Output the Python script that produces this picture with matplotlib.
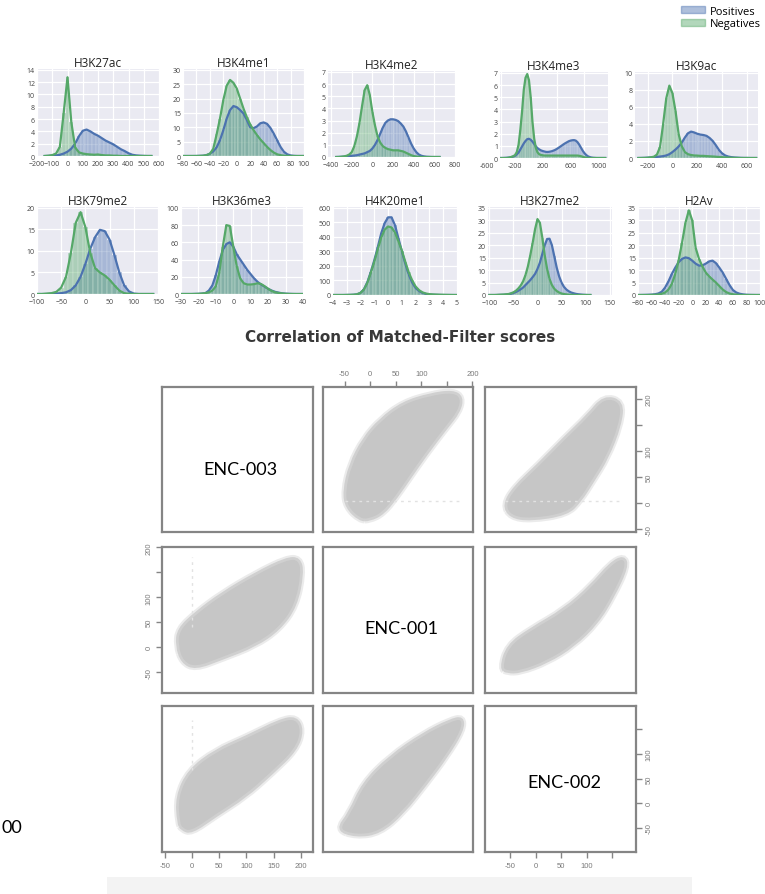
import numpy as np
import matplotlib
matplotlib.use("Agg")
import matplotlib.pyplot as plt
import matplotlib.transforms as mtransforms
from matplotlib.patches import Patch, PathPatch, Rectangle
from matplotlib.path import Path

# ---- histogram / kde knots (bin centres and densities) ----
h3k27ac_x = np.arange(-150, 551, 25)
h3k27ac_pos = [0, 0.02, 0.05, 0.1, 0.2, 0.4, 0.7, 1.2, 2.0, 3.2, 4.1, 4.3, 4.0, 3.6, 3.3,
               2.9, 2.5, 2.2, 1.9, 1.5, 1.1, 0.8, 0.45, 0.2, 0.1, 0.05, 0.02, 0, 0]
h3k27ac_neg = [0, 0.05, 0.15, 0.4, 1.5, 7.0, 12.8, 5.5, 1.4, 0.6, 0.4, 0.3, 0.25, 0.2, 0.25,
               0.15, 0.1, 0.1, 0.05, 0.05, 0, 0, 0, 0, 0, 0, 0, 0, 0]

h3k4me1_x = np.arange(-80, 101, 5)
h3k4me1_pos = [0, 0, 0, 0, 0.02, 0.05, 0.1, 0.3, 0.8, 1.6, 3, 5.5, 9, 13, 16, 17.4, 17, 16,
               14.8, 12.5, 10, 9.7, 10.3, 11.4, 11.7, 11.2, 9.8, 7.8, 5.5, 3.2, 1.5, 0.6, 0.2,
               0.05, 0, 0, 0]
h3k4me1_neg = [0, 0, 0, 0, 0, 0.05, 0.1, 0.3, 0.8, 2.5, 7.5, 13, 19.5, 24.5, 26.5, 25.5, 23.5,
               20, 16.5, 13.5, 11, 9, 7.3, 5.8, 4.5, 3.2, 2.1, 1.2, 0.6, 0.3, 0.1, 0.05, 0, 0,
               0, 0, 0]

h3k4me2_x = np.arange(-350, 651, 25)
h3k4me2_pos = [0, 0.01, 0.02, 0.03, 0.05, 0.07, 0.1, 0.12, 0.15, 0.2, 0.25, 0.3, 0.4, 0.5,
               0.7, 1.0, 1.4, 1.9, 2.4, 2.8, 3.0, 3.1, 3.1, 3.05, 2.95, 2.75, 2.5, 2.1, 1.6,
               1.1, 0.7, 0.4, 0.2, 0.1, 0.05, 0.02, 0.01, 0, 0, 0, 0]
h3k4me2_neg = [0, 0, 0.02, 0.05, 0.1, 0.2, 0.4, 0.9, 1.7, 2.8, 4.2, 5.5, 5.9, 5.1, 3.7, 2.6,
               1.7, 1.2, 0.9, 0.75, 0.65, 0.6, 0.55, 0.55, 0.55, 0.5, 0.45, 0.35, 0.25, 0.15,
               0.08, 0.04, 0.02, 0, 0, 0, 0, 0, 0, 0, 0]

h3k4me3_x = np.arange(-400, 1101, 25)
h3k4me3_pos = [0, 0, 0.01, 0.02, 0.03, 0.05, 0.08, 0.12, 0.18, 0.3, 0.45, 0.7, 0.95, 1.2,
               1.4, 1.55, 1.58, 1.5, 1.35, 1.15, 0.95, 0.8, 0.7, 0.62, 0.57, 0.53, 0.5, 0.5,
               0.52, 0.55, 0.6, 0.66, 0.74, 0.83, 0.93, 1.03, 1.13, 1.22, 1.3, 1.38, 1.43,
               1.46, 1.47, 1.43, 1.3, 1.1, 0.85, 0.6, 0.4, 0.25, 0.14, 0.08, 0.04, 0.02, 0.01,
               0, 0, 0, 0, 0, 0]
h3k4me3_neg = [0, 0, 0, 0, 0.02, 0.05, 0.1, 0.15, 0.25, 0.5, 1.1, 2.3, 3.8, 5.6, 6.6, 6.9,
               6.4, 5.0, 3.0, 1.6, 0.8, 0.45, 0.3, 0.25, 0.22, 0.2, 0.2, 0.2, 0.2, 0.2, 0.2,
               0.2, 0.2, 0.2, 0.2, 0.2, 0.2, 0.2, 0.2, 0.2, 0.2, 0.2, 0.2, 0.2, 0.2, 0.18,
               0.15, 0.1, 0.06, 0.03, 0.01, 0, 0, 0, 0, 0, 0, 0, 0, 0, 0]

h3k9ac_x = np.arange(-275, 676, 25)
h3k9ac_pos = [0, 0.01, 0.02, 0.04, 0.07, 0.1, 0.13, 0.17, 0.22, 0.3, 0.45, 0.7, 1.0, 1.35,
              1.8, 2.4, 2.9, 3.1, 3.0, 2.85, 2.75, 2.7, 2.6, 2.35, 2.0, 1.5, 0.95, 0.55, 0.3,
              0.17, 0.1, 0.06, 0.04, 0.02, 0.01, 0.01, 0, 0, 0]
h3k9ac_neg = [0, 0, 0.01, 0.03, 0.08, 0.15, 0.4, 1.3, 4.0, 7.0, 8.5, 7.6, 5.5, 2.8, 1.4, 0.7,
              0.45, 0.35, 0.3, 0.28, 0.25, 0.25, 0.22, 0.2, 0.18, 0.15, 0.12, 0.1, 0.07, 0.05,
              0.03, 0.02, 0.01, 0, 0, 0, 0, 0, 0]

h3k79me2_x = np.arange(-100, 141, 10)
h3k79me2_pos = [0, 0, 0, 0.05, 0.1, 0.2, 0.4, 0.9, 2, 4, 7, 10.5, 13.2, 14.9, 14.6, 12.6, 9,
                5, 2, 0.6, 0.1, 0, 0, 0, 0]
h3k79me2_neg = [0, 0, 0.1, 0.2, 0.5, 1.5, 4, 9.5, 16.5, 19, 15.5, 9.5, 6, 5, 4.3, 3.3, 2, 0.8,
                0.2, 0.05, 0, 0, 0, 0, 0]

h3k36me3_x = np.arange(-30, 41, 2)
h3k36me3_pos = [0, 0, 0, 0, 0.1, 0.2, 0.5, 1, 4, 10, 22, 38, 51, 58, 60, 55, 46, 40, 34, 28,
                23, 18, 14, 11, 8.5, 6, 4, 2.5, 1.6, 0.8, 0.4, 0.2, 0.05, 0, 0, 0]
h3k36me3_neg = [0, 0, 0, 0, 0.1, 0.2, 0.5, 1, 2, 4, 9, 25, 55, 80, 79, 55, 32, 18, 12.5, 11,
                11, 11.5, 12.5, 11.5, 9, 6, 3.5, 2, 1.2, 0.7, 0.3, 0.1, 0.05, 0, 0, 0]

h4k20me1_x = np.arange(-4, 5.01, 0.25)
h4k20me1_pos = [0, 0, 0, 0, 0.5, 1, 2, 5, 15, 40, 90, 160, 240, 330, 425, 495, 535, 535, 480,
                390, 300, 215, 140, 85, 48, 27, 14, 7, 3.5, 2, 1, 0.5, 0, 0, 0, 0, 0]
h4k20me1_neg = [0, 0, 0, 0, 0.5, 1, 2, 5, 15, 38, 85, 155, 230, 315, 395, 450, 472, 465, 430,
                370, 305, 228, 155, 100, 58, 33, 18, 10, 6, 4, 3, 2, 1.5, 1, 0.5, 0, 0]

h3k27me2_x = np.arange(-100, 111, 5)
h3k27me2_pos = [0, 0, 0, 0, 0.05, 0.08, 0.1, 0.2, 0.3, 0.5, 0.8, 1.2, 1.7, 2.3, 3, 4, 5, 6,
                7.2, 8.5, 10.5, 13, 16.5, 20, 22.5, 22.6, 20, 15.5, 11, 7.5, 5, 3.3, 2.2, 1.5,
                1, 0.7, 0.45, 0.3, 0.2, 0.1, 0.05, 0, 0]
h3k27me2_neg = [0, 0, 0, 0.05, 0.1, 0.15, 0.2, 0.3, 0.4, 0.7, 1.1, 1.7, 2.6, 3.8, 5.5, 8,
                11.5, 16, 21, 26.5, 30.5, 29, 23, 16, 10.5, 6.5, 4, 2.5, 1.6, 1, 0.6, 0.4,
                0.25, 0.15, 0.1, 0.05, 0, 0, 0, 0, 0, 0, 0]

h2av_x = np.arange(-80, 101, 5)
h2av_pos = [0, 0.02, 0.05, 0.1, 0.15, 0.3, 0.6, 1.3, 3, 5.5, 8.5, 11, 13.2, 14.5, 15.1, 14.8,
            13.8, 12.6, 11.8, 11.9, 12.6, 13.5, 13.8, 12.8, 11, 9, 6.5, 4, 2, 1, 0.5, 0.25,
            0.1, 0.05, 0.02, 0, 0]
h2av_neg = [0, 0, 0, 0, 0.05, 0.1, 0.2, 0.5, 1, 2.2, 4.5, 8.5, 14, 21, 29, 34, 30, 19, 14.5,
            11.5, 9, 7.5, 6.2, 5, 3.6, 2.2, 1.2, 0.6, 0.3, 0.15, 0.05, 0, 0, 0, 0, 0, 0]

hist_titles = ["H3K27ac", "H3K4me1", "H3K4me2", "H3K4me3", "H3K9ac",
               "H3K79me2", "H3K36me3", "H4K20me1", "H3K27me2", "H2Av"]
hist_x = [h3k27ac_x, h3k4me1_x, h3k4me2_x, h3k4me3_x, h3k9ac_x,
          h3k79me2_x, h3k36me3_x, h4k20me1_x, h3k27me2_x, h2av_x]
hist_pos = [h3k27ac_pos, h3k4me1_pos, h3k4me2_pos, h3k4me3_pos, h3k9ac_pos,
            h3k79me2_pos, h3k36me3_pos, h4k20me1_pos, h3k27me2_pos, h2av_pos]
hist_neg = [h3k27ac_neg, h3k4me1_neg, h3k4me2_neg, h3k4me3_neg, h3k9ac_neg,
            h3k79me2_neg, h3k36me3_neg, h4k20me1_neg, h3k27me2_neg, h2av_neg]
hist_xticks = [list(range(-200, 601, 100)), list(range(-80, 101, 20)),
               list(range(-400, 801, 200)), [-600, -200, 200, 600, 1000],
               list(range(-200, 601, 200)), list(range(-100, 151, 50)),
               list(range(-30, 41, 10)), list(range(-4, 6)),
               list(range(-100, 151, 50)), list(range(-80, 101, 20))]
hist_yticks = [list(range(0, 15, 2)), list(range(0, 31, 5)), list(range(0, 8)),
               list(range(0, 8)), list(range(0, 11, 2)), list(range(0, 21, 5)),
               list(range(0, 101, 20)), list(range(0, 601, 100)),
               list(range(0, 36, 5)), list(range(0, 36, 5))]
series_labels = ["Positives", "Negatives"]

# ---- pairs plot (outline of each grey point cloud, in score units) ----
enc_names = ["ENC-003", "ENC-001", "ENC-002"]
enc_ticks = [-50, 0, 50, 100, 150, 200]
cloud_r1c2 = [(-20, -32), (-46, -8), (-51, 23), (-39, 74), (-13, 123), (20, 160), (64, 192),
              (117, 208), (162, 214), (180, 202), (174, 175), (148, 143), (109, 93),
              (77, 48), (51, 11), (25, -20), (-1, -32)]
cloud_r1c3 = [(-62, -3), (-42, 30), (5, 73), (56, 124), (102, 167), (134, 204), (171, 194),
              (166, 149), (141, 87), (113, 43), (88, 5), (62, -21), (-10, -32), (-49, -26)]
cloud_r2c1 = [(-28, 3), (-25, 36), (7, 69), (55, 108), (117, 148), (173, 178), (197, 178),
              (203, 149), (191, 83), (160, 36), (116, 3), (55, -23), (6, -43), (-18, -30)]
cloud_r2c3 = [(-68, -43), (-55, 3), (-10, 36), (56, 75), (108, 122), (147, 168), (173, 182),
              (180, 162), (153, 103), (121, 49), (75, 3), (23, -30), (-30, -50), (-55, -50)]
cloud_r3c1 = [(-25, -40), (-28, 13), (-6, 66), (43, 107), (99, 134), (161, 168), (191, 174),
              (203, 148), (191, 108), (147, 61), (98, 13), (43, -26), (-1, -60), (-19, -53)]
cloud_r3c2 = [(-65, -54), (-40, -20), (-14, 40), (38, 94), (104, 141), (156, 168), (181, 174),
              (181, 148), (149, 94), (110, 40), (64, -20), (19, -60), (-27, -67)]
# faint streaks of points along x = 0 / y = 0
streak_r1c2 = [(-50, 4), (180, 4)]
streak_r1c3 = [(-60, 5), (170, 5)]
streak_r2c1 = [(0, 40), (0, 180)]
streak_r3c1 = [(0, 67), (0, 168)]

W, H = 765, 895
BLUE = "#4C72B0"
GREEN = "#55A868"
plt.rcParams["font.family"] = ["Open Sans", "DejaVu Sans"]

fig = plt.figure(figsize=(W / 100, H / 100), dpi=100)


def px_axes(l, t, r, b):
    return fig.add_axes([l / W, 1 - b / H, (r - l) / W, (b - t) / H])


def rounded_outline(pts):
    # closed outline through edge midpoints, corners used as quadratic control points
    p = np.asarray(pts, dtype=float)
    mids = (p + np.roll(p, -1, axis=0)) / 2
    verts = [mids[-1]]
    codes = [Path.MOVETO]
    for i in range(len(p)):
        verts += [p[i], mids[i]]
        codes += [Path.CURVE3, Path.CURVE3]
    return Path(verts, codes)


hist_boxes = [(37, 70, 159, 157), (183, 70, 304, 157), (328, 72, 455, 158),
              (500, 73, 608, 159), (635, 73, 758, 159),
              (37, 208, 159, 295), (181, 208, 303, 295), (333, 208, 457, 296),
              (488, 208, 612, 296), (638, 208, 760, 296)]
hist_xlims = [(-200, 600), (-80, 100), (-430, 800), (-418, 1140), (-302, 690),
              (-100, 152), (-30, 40), (-4, 5), (-103, 155), (-80, 100)]

for i, name in enumerate(hist_titles):
    ax = px_axes(*hist_boxes[i])
    ax.set_facecolor("#EAEAF2")
    x = hist_x[i]
    w = x[1] - x[0]
    ax.bar(x, hist_pos[i], width=w, color=BLUE, alpha=0.42, edgecolor="white", linewidth=0.3)
    ax.bar(x, hist_neg[i], width=w, color=GREEN, alpha=0.42, edgecolor="white", linewidth=0.3)
    ax.plot(x, hist_pos[i], color=BLUE, lw=1.6)
    ax.plot(x, hist_neg[i], color=GREEN, lw=1.6)
    ax.set_xlim(hist_xlims[i])
    yt = hist_yticks[i]
    ax.set_ylim(0, yt[-1] * 1.01)
    ax.set_yticks(yt)
    if name == "H3K4me3":
        # labels sit between the grid lines in the original
        ax.set_xticks([-400, 0, 400, 800])
        ax.set_xticklabels([])
        tr = mtransforms.blended_transform_factory(ax.transData, ax.transAxes)
        for v in hist_xticks[i]:
            ax.text(v, -0.05, str(v), transform=tr, ha="center", va="top",
                    fontsize=5, color="#444444", clip_on=False)
    else:
        ax.set_xticks(hist_xticks[i])
    for s in ax.spines.values():
        s.set_visible(False)
    ax.grid(color="white", lw=0.9)
    ax.set_axisbelow(True)
    ax.tick_params(axis="y", length=0, labelsize=5, colors="#444444", pad=1.5)
    ax.tick_params(axis="x", length=0, labelsize=5, colors="#444444", pad=3)
    ax.set_title(name, fontsize=8.5, pad=2, color="#222222")

fig.legend(handles=[Patch(color=BLUE, alpha=0.45), Patch(color=GREEN, alpha=0.45)],
           labels=series_labels, loc="upper right", bbox_to_anchor=(1.003, 1.0),
           frameon=False, fontsize=8, handlelength=2.2, handleheight=0.6,
           handletextpad=0.4, labelspacing=0.12, borderaxespad=0.2)

# ---- pairs plot ----
fig.text(400 / W, 1 - 337 / H, "Correlation of Matched-Filter scores",
         ha="center", va="center", fontsize=11, fontweight="bold",
         family="DejaVu Sans", color="#383838")

col_px = [(162, 313), (323, 473), (485, 636)]
row_px = [(388, 533), (548, 694), (707, 853)]
enc_lims = [(-55, 222), (-92, 201), (-99, 197)]
diag_pos = [(0.52, 0.434), (0.52, 0.445), (0.523, 0.479)]
clouds = {(0, 1): cloud_r1c2, (0, 2): cloud_r1c3, (1, 0): cloud_r2c1,
          (1, 2): cloud_r2c3, (2, 0): cloud_r3c1, (2, 1): cloud_r3c2}
streaks = {(0, 1): streak_r1c2, (0, 2): streak_r1c3, (1, 0): streak_r2c1,
           (2, 0): streak_r3c1}
GREY = "#c6c6c6"
AXC = "#858585"
pair_axes = {}
for r in range(3):
    for c in range(3):
        l, rr = col_px[c]
        t, b = row_px[r]
        ax = px_axes(l, t, rr, b)
        ax.set_xlim(enc_lims[c])
        ax.set_ylim(enc_lims[r])
        for s in ax.spines.values():
            s.set_color(AXC)
            s.set_linewidth(1.6)
        ax.set_xticks([])
        ax.set_yticks([])
        if r == c:
            ax.text(*diag_pos[r], enc_names[r], transform=ax.transAxes, ha="center",
                    va="center", fontsize=13, family="Lato", color="black")
        else:
            if (r, c) in streaks:
                sx, sy = zip(*streaks[(r, c)])
                ax.plot(sx, sy, color="#e2e2e2", lw=1.0, ls=(0, (2, 3)))
            outline = rounded_outline(clouds[(r, c)])
            # soft rim then body, so the cloud edges look slightly blurred
            ax.add_patch(PathPatch(outline, facecolor="#d6d6d6", edgecolor="#ebebeb", lw=5))
            ax.add_patch(PathPatch(outline, facecolor=GREY, edgecolor="#d0d0d0", lw=2))
        ax.tick_params(direction="out", length=4, width=1.0, color=AXC,
                       labelsize=5.5, labelcolor="#7a7a7a", pad=3)
        pair_axes[(r, c)] = ax


def lbl(vals, skip):
    return ["" if v in skip else str(v) for v in vals]


ax = pair_axes[(0, 1)]
ax.xaxis.set_ticks_position("top")
ax.set_xticks(enc_ticks)
ax.set_xticklabels(lbl(enc_ticks, [150]), family="Liberation Sans")

ax = pair_axes[(0, 2)]
ax.yaxis.set_ticks_position("right")
ax.set_yticks(enc_ticks)
ax.set_yticklabels(lbl(enc_ticks, [150]), rotation=90, va="center", family="Liberation Sans")

ax = pair_axes[(1, 0)]
ax.set_yticks(enc_ticks)
ax.set_yticklabels(lbl(enc_ticks, [150]), rotation=90, va="center", family="Liberation Sans")

ax = pair_axes[(2, 0)]
ax.set_xticks(enc_ticks)
ax.set_xticklabels(lbl(enc_ticks, []), family="Liberation Sans")

ax = pair_axes[(2, 2)]
ax.set_xticks(enc_ticks[:5])
ax.set_xticklabels(lbl(enc_ticks[:5], [150]), family="Liberation Sans")
ax.yaxis.set_ticks_position("right")
ax.set_yticks(enc_ticks[:5])
ax.set_yticklabels(lbl(enc_ticks[:5], [150]), rotation=90, va="center", family="Liberation Sans")

# light strip along the bottom and the cut-off label on the left
fig.patches.append(Rectangle((107 / W, 0), (692 - 107) / W, 17 / H,
                             transform=fig.transFigure, facecolor="#f3f3f3",
                             edgecolor="none", zorder=0))
fig.text(22 / W, 1 - 828 / H, "00", ha="right", va="center", fontsize=13,
         family="Lato", color="black")

fig.savefig("out.png", dpi=100)
